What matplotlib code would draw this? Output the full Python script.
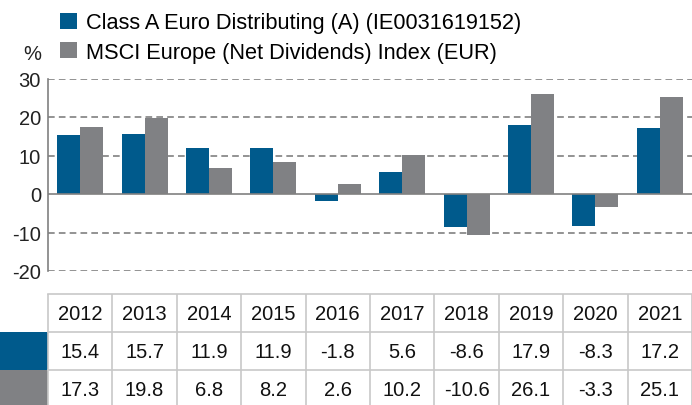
import numpy as np
import matplotlib.pyplot as plt
from matplotlib.patches import Rectangle

plt.rcParams['font.family'] = ['Liberation Sans', 'DejaVu Sans']

years = ['2012', '2013', '2014', '2015', '2016', '2017', '2018', '2019', '2020', '2021']
fund = [15.4, 15.7, 11.9, 11.9, -1.8, 5.6, -8.6, 17.9, -8.3, 17.2]
index = [17.3, 19.8, 6.8, 8.2, 2.6, 10.2, -10.6, 26.1, -3.3, 25.1]
labels = ['Class A Euro Distributing (A) (IE0031619152)',
          'MSCI Europe (Net Dividends) Index (EUR)']
colors = ['#005a8c', '#808184']
yticks = [-20, -10, 0, 10, 20, 30]

W, H = 692, 406
fig = plt.figure(figsize=(W / 100, H / 100), dpi=100)

# main chart area in pixel terms
left, right, top, bottom = 48, 692, 79.5, 272
ax = fig.add_axes([left / W, 1 - bottom / H, (right - left) / W, (bottom - top) / H])
x = np.arange(len(years))
bw = 0.357
b1 = ax.bar(x - bw / 2, fund, bw, color=colors[0], label=labels[0], zorder=3)
b2 = ax.bar(x + bw / 2, index, bw, color=colors[1], label=labels[1], zorder=3)
ax.set_xlim(-0.5, len(years) - 0.5)
ax.set_ylim(-20, 30)
ax.set_yticks(yticks)
ax.set_yticklabels([str(t) for t in yticks], fontsize=14.5, color='#222222')
ax.set_xticks([])
ax.tick_params(axis='y', length=0, pad=5)
for t in yticks:
    if t == 0:
        ax.axhline(t, color='#808080', lw=1.2, zorder=4)
    else:
        ax.axhline(t, color='#808080', lw=1.2, ls=(0, (4, 2.5)), zorder=1)
for s in ['top', 'right', 'bottom']:
    ax.spines[s].set_visible(False)
ax.spines['left'].set_color('#808080')
ax.spines['left'].set_linewidth(1.2)

fig.text(32 / W, 1 - 55 / H, '%', fontsize=14.5, ha='center', va='center', color='#222222')

fig.legend(handles=[b1, b2], loc='upper left', bbox_to_anchor=(60 / W, 1 - 13.5 / H),
           frameon=False, fontsize=15.7, handlelength=0.78, handleheight=0.78,
           handletextpad=0.42, labelspacing=0.38, borderaxespad=0, borderpad=0)

# table underneath, sharing the category scale
col_w = (right - left) / len(years)
t_top = 295
row_h = 38
tab = fig.add_axes([0, 0, 1, (H - t_top) / H])
tab.set_xlim(-0.5 - left / col_w, len(years) - 0.5)
tab.set_ylim((H - t_top) / row_h, 0)
tab.axis('off')
grid_c = '#c8c8c8'
tab.plot([-0.5, len(years) - 0.5], [0, 0], color=grid_c, lw=1.2, clip_on=False)
for r in [1, 2]:
    tab.plot([-0.5, len(years) - 0.5], [r, r], color=grid_c, lw=1.2)
for i in range(len(years) + 1):
    tab.plot([i - 0.5, i - 0.5], [0, 3], color=grid_c, lw=1.2)
for r, c in enumerate(colors):
    tab.add_patch(Rectangle((-0.5 - left / col_w, r + 1), left / col_w, 1,
                            color=c, lw=0))
for i, yr in enumerate(years):
    tab.text(i, 0.52, yr, ha='center', va='center', fontsize=14.5, color='#111111')
    tab.text(i, 1.52, f'{fund[i]:.1f}', ha='center', va='center', fontsize=14.5, color='#111111')
    tab.text(i, 2.52, f'{index[i]:.1f}', ha='center', va='center', fontsize=14.5, color='#111111')

fig.savefig('out.png', dpi=100)
